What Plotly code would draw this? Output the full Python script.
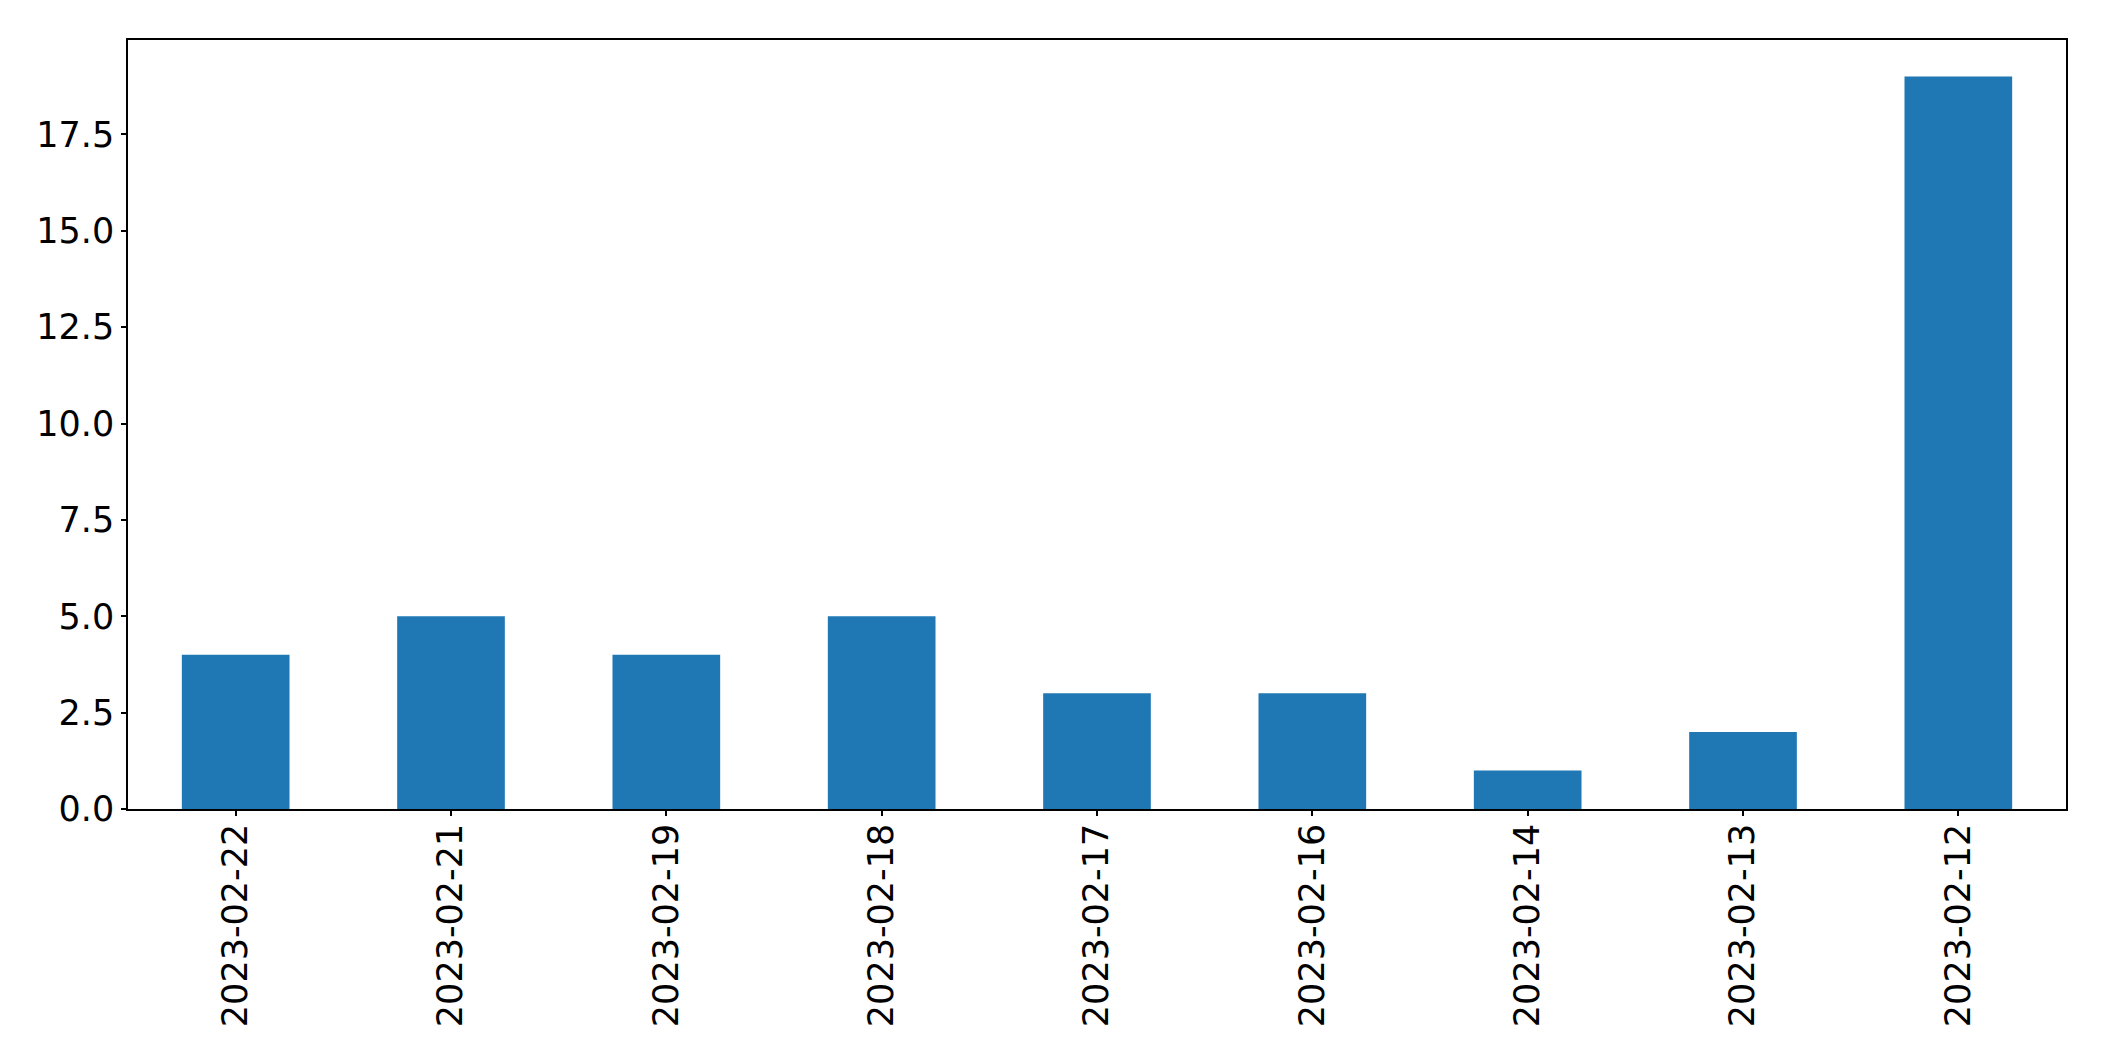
import plotly.graph_objects as go

categories = ["2023-02-22", "2023-02-21", "2023-02-19", "2023-02-18", "2023-02-17",
              "2023-02-16", "2023-02-14", "2023-02-13", "2023-02-12"]
values = [4, 5, 4, 5, 3, 3, 1, 2, 19]
y_ticks = [0, 2.5, 5, 7.5, 10, 12.5, 15, 17.5]

fig = go.Figure(go.Bar(x=categories, y=values, width=0.5,
                       marker=dict(color="#1f77b4", line=dict(width=0))))

font = dict(family="DejaVu Sans", size=35, color="black")
fig.update_layout(
    width=2096, height=1053,
    margin=dict(l=120, r=38, t=32, b=252, pad=0),
    paper_bgcolor="white", plot_bgcolor="white",
    showlegend=False,
    font=font,
)
fig.update_xaxes(type="category", range=[-0.5, 8.5], tickangle=-90,
                 showline=True, linecolor="black", linewidth=1.5, mirror=True,
                 ticks="outside", ticklen=5, tickwidth=1.5, tickcolor="black",
                 showgrid=False, zeroline=False, tickfont=font, ticklabelstandoff=-6)
fig.update_yaxes(range=[0, 19.95], tickvals=y_ticks, tickformat=".1f",
                 showline=True, linecolor="black", linewidth=1.5, mirror=True,
                 ticks="outside", ticklen=5, tickwidth=1.5, tickcolor="black",
                 showgrid=False, zeroline=False, tickfont=font, ticklabelstandoff=0)

fig.write_html("out.html")
